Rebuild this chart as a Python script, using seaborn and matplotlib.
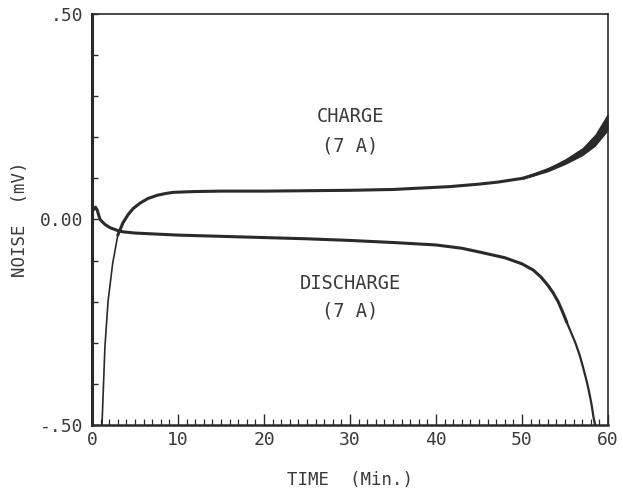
import numpy as np
import pandas as pd
import matplotlib
matplotlib.use("Agg")
import matplotlib.pyplot as plt
from matplotlib.ticker import MultipleLocator, FixedLocator
import seaborn as sns

# ---- data ----
charge_time = [1.16, 1.5, 1.86, 2.4, 3.0, 3.6, 4.2, 4.8, 5.6, 6.5, 7.6, 8.5, 9.4, 12, 15, 20,
               25, 30, 35, 37.8, 41.6, 45, 47.2, 50, 51.3, 53, 54, 55.5, 57.1, 58.2, 59, 60]
charge_noise = [-0.50, -0.31, -0.20, -0.107, -0.038, -0.008, 0.012, 0.027, 0.040, 0.051, 0.059,
                0.063, 0.066, 0.068, 0.069, 0.069, 0.07, 0.071, 0.073, 0.076, 0.080, 0.086,
                0.091, 0.100, 0.108, 0.121, 0.130, 0.146, 0.166, 0.186, 0.205, 0.238]
# spread of the noisy charge band near the end
band_time = [50, 53, 55, 57, 58.5, 60]
band_half = [0.003, 0.005, 0.007, 0.010, 0.015, 0.022]

discharge_time = [0.0, 0.03, 0.4, 0.6, 0.93, 1.5, 2.1, 3.0, 3.6, 5, 10, 15, 20, 25, 30, 35, 40,
                  43, 45, 48, 50, 51.3, 52.2, 53, 53.6, 54.2, 54.7, 55.2, 55.7, 56.2, 56.7,
                  57.1, 57.5, 57.8, 58.1, 58.3, 58.5]
discharge_noise = [-0.50, 0.02, 0.03, 0.023, 0.0, -0.012, -0.02, -0.027, -0.03, -0.033, -0.038,
                   -0.041, -0.044, -0.047, -0.051, -0.056, -0.062, -0.070, -0.079, -0.093,
                   -0.108, -0.123, -0.140, -0.160, -0.178, -0.200, -0.224, -0.250, -0.275,
                   -0.300, -0.330, -0.360, -0.392, -0.420, -0.452, -0.480, -0.50]

annotations = [("CHARGE", 30, 0.25), ("(7 A)", 30, 0.179),
               ("DISCHARGE", 30, -0.155), ("(7 A)", 30, -0.223)]

x_ticks = [0, 10, 20, 30, 40, 50, 60]
y_ticks = [-0.5, 0.0, 0.5]
y_tick_labels = ["-.50", "0.00", ".50"]

# ---- plotting ----
sns.set_style("white")
plt.rcParams['font.family'] = ['DejaVu Sans Mono', 'DejaVu Sans']
ink = "#2a2a2a"
txt = "#3a3a3a"

fig = plt.figure(figsize=(6.23, 4.94), dpi=100)
ax = fig.add_axes([0.1477, 0.1397, 0.8283, 0.832])

ch = pd.DataFrame({"t": charge_time, "v": charge_noise})
dc = pd.DataFrame({"t": discharge_time, "v": discharge_noise})

# thin steep rise and thick noisy plateau of the charge curve
rise = ch[ch.t <= 4.2]
plat = ch[ch.t >= 3.0]
sns.lineplot(data=rise, x="t", y="v", ax=ax, color=ink, lw=1.2, estimator=None, sort=False)
sns.lineplot(data=plat, x="t", y="v", ax=ax, color=ink, lw=2.2, estimator=None, sort=False)

bt = np.array(band_time)
bc = np.interp(bt, charge_time, charge_noise)
bh = np.array(band_half)
ax.fill_between(bt, bc - bh, bc + bh, color=ink, lw=0)

# discharge curve: thick while noisy, thinner in the steep drop
d1 = dc[dc.t <= 55.2]
d2 = dc[dc.t >= 55.2]
sns.lineplot(data=d1, x="t", y="v", ax=ax, color=ink, lw=2.2, estimator=None, sort=False)
sns.lineplot(data=d2, x="t", y="v", ax=ax, color=ink, lw=1.6, estimator=None, sort=False)

for s, x, y in annotations:
    ax.text(x, y, s, ha="center", va="center", fontsize=13.5, color=txt)

ax.set_xlim(0, 60)
ax.set_ylim(-0.5, 0.5)
ax.xaxis.set_major_locator(FixedLocator(x_ticks))
ax.xaxis.set_minor_locator(MultipleLocator(1))
ax.yaxis.set_major_locator(FixedLocator(y_ticks))
ax.yaxis.set_minor_locator(MultipleLocator(0.1))
ax.set_yticklabels(y_tick_labels)
ax.tick_params(axis="x", which="major", direction="in", length=8, width=1.0,
               color=ink, labelsize=13, labelcolor=txt, pad=4, bottom=True)
ax.tick_params(axis="x", which="minor", direction="in", length=4, width=0.9,
               color=ink, bottom=True)
ax.tick_params(axis="y", which="major", direction="in", length=4, width=1.0,
               color=ink, labelsize=13, labelcolor=txt, pad=6, left=True)
ax.tick_params(axis="y", which="minor", direction="in", length=4, width=1.0,
               color=ink, left=True)

for side, sp in ax.spines.items():
    sp.set_color(ink)
    sp.set_linewidth(1.2)
ax.spines["left"].set_linewidth(2.2)
ax.spines["bottom"].set_linewidth(1.8)

ax.set_xlabel("TIME  (Min.)", fontsize=12.5, color=txt, labelpad=16)
ax.set_ylabel("NOISE  (mV)", fontsize=12.5, color=txt, labelpad=8)

fig.savefig("out.png", dpi=100, facecolor="white")
